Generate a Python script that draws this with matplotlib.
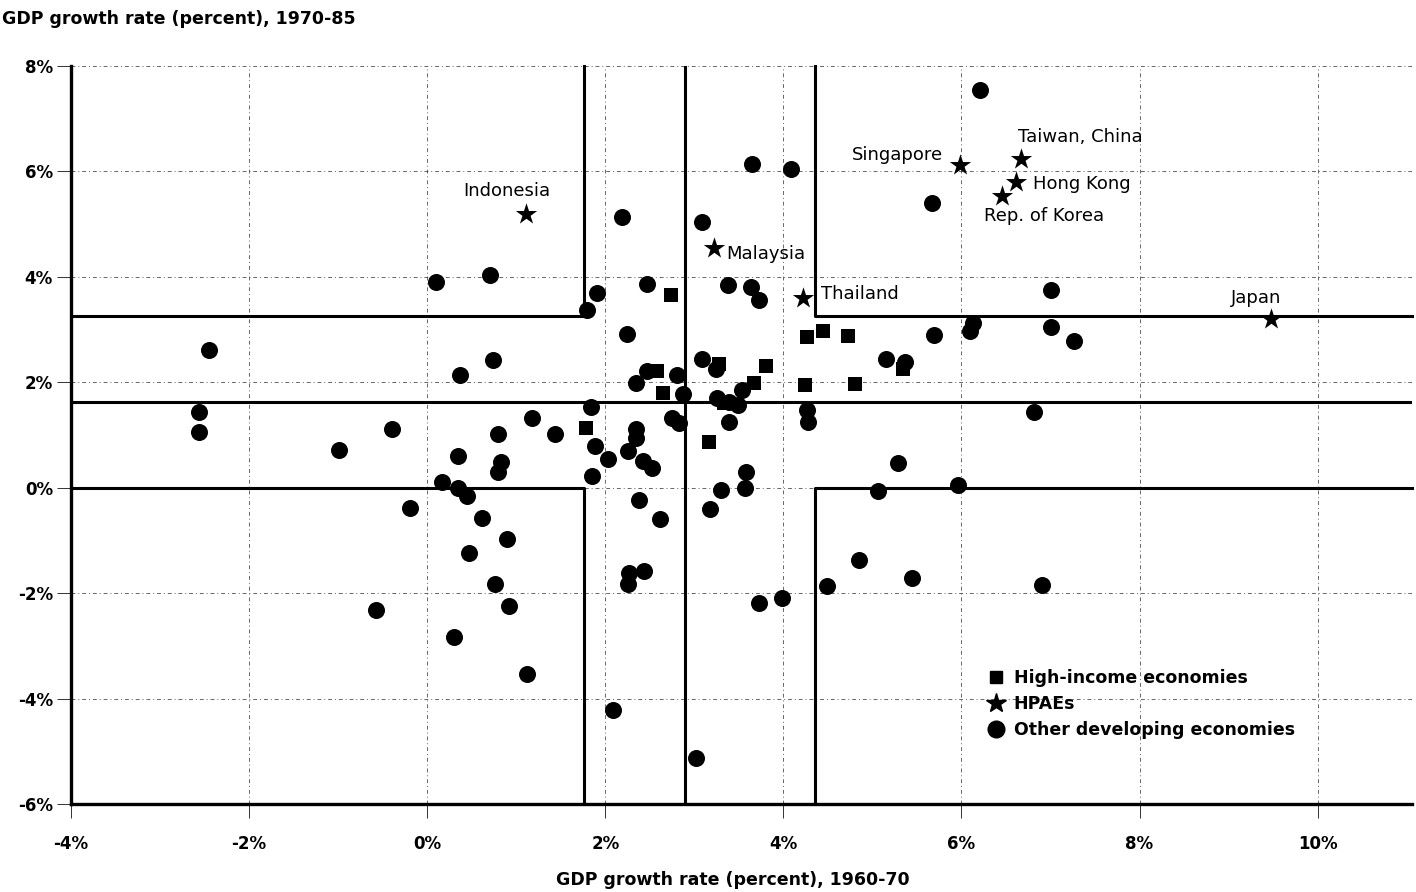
import matplotlib
matplotlib.use("Agg")
import matplotlib.pyplot as plt
from matplotlib.lines import Line2D

plt.rcParams['font.family'] = ['DejaVu Sans']

# ---- data: GDP growth 1960-70 (x, %) vs 1970-85 (y, %) ----
hpae_names = ["Indonesia", "Malaysia", "Thailand", "Singapore",
              "Taiwan, China", "Hong Kong", "Rep. of Korea", "Japan"]
hpae_x = [1.11, 3.22, 4.22, 5.98, 6.67, 6.61, 6.46, 9.48]
hpae_y = [5.19, 4.54, 3.59, 6.12, 6.24, 5.80, 5.53, 3.21]

high_x = [2.74, 2.58, 2.65, 3.28, 3.81, 3.67, 3.33, 1.78, 3.17, 4.26, 4.44, 4.73, 4.24, 4.81, 5.34]
high_y = [3.65, 2.21, 1.79, 2.34, 2.30, 1.98, 1.60, 1.14, 0.86, 2.85, 2.97, 2.87, 1.94, 1.96, 2.26]

other_x = [-2.45, -2.56, -2.56, -0.99, -0.39, -0.19, -0.58, 0.10, 0.70, 0.37,
           0.74, 0.17, 0.35, 0.35, 0.45, 0.79, 0.83, 0.79, 0.62, 0.90,
           0.47, 0.76, 0.92, 0.30, 1.12, 1.18, 1.44, 1.84, 1.91, 1.79,
           2.19, 2.47, 2.24, 2.47, 2.34, 2.81, 2.87, 1.89, 1.85, 2.03,
           2.25, 2.35, 2.35, 2.42, 2.53, 2.75, 2.83, 2.38, 2.62, 2.27,
           2.43, 2.26, 2.09, 3.02, 3.09, 3.65, 4.09, 3.38, 3.64, 3.73,
           3.09, 3.24, 3.54, 3.25, 3.39, 3.49, 3.39, 3.58, 3.57, 3.30,
           3.18, 3.73, 3.98, 4.26, 4.28, 4.49, 4.85, 5.45, 6.91, 5.06,
           5.29, 5.96, 5.15, 5.37, 5.69, 6.13, 6.10, 7.01, 7.26, 7.01,
           6.82, 5.67, 6.21]
other_y = [2.62, 1.43, 1.06, 0.72, 1.12, -0.38, -2.32, 3.90, 4.03, 2.13,
           2.43, 0.11, 0.61, 0.00, -0.15, 1.01, 0.49, 0.30, -0.57, -0.97,
           -1.24, -1.83, -2.24, -2.83, -3.54, 1.33, 1.01, 1.54, 3.69, 3.38,
           5.13, 3.86, 2.91, 2.22, 1.98, 2.13, 1.77, 0.80, 0.23, 0.55,
           0.70, 1.12, 0.95, 0.51, 0.38, 1.33, 1.22, -0.23, -0.59, -1.62,
           -1.58, -1.83, -4.22, -5.13, 5.04, 6.14, 6.05, 3.84, 3.80, 3.57,
           2.45, 2.26, 1.86, 1.71, 1.62, 1.56, 1.24, 0.29, 0.00, -0.04,
           -0.40, -2.19, -2.09, 1.48, 1.24, -1.86, -1.37, -1.71, -1.84, -0.06,
           0.46, 0.06, 2.45, 2.38, 2.89, 3.12, 2.98, 3.04, 2.78, 3.75,
           1.44, 5.40, 7.55]

# region boundaries (percent)
x_lo, x_mid, x_hi = 1.76, 2.90, 4.35
y_lo, y_mid, y_hi = 0.0, 1.62, 3.25

xticks = [-4, -2, 0, 2, 4, 6, 8, 10]
yticks = [-6, -4, -2, 0, 2, 4, 6, 8]
xlim = (-4, 11.06)
ylim = (-6, 8)

# label offsets in pixels (dx, dy, ha)
label_offsets = [(-19, 23, 'center'), (12, -6, 'left'), (18, 4, 'left'),
                 (-17, 10, 'right'), (-3, 22, 'left'), (17, -2, 'left'),
                 (-18, -20, 'left'), (-15, 21, 'center')]

fig = plt.figure(figsize=(14.16, 8.92), dpi=100)
ax = fig.add_axes([71/1416, 1 - 804/892, (1412 - 71)/1416, (804 - 66)/892])
ax.set_xlim(*xlim)
ax.set_ylim(*ylim)

# grid
ax.set_xticks(xticks)
ax.set_yticks(yticks)
ax.set_xticklabels([f"{t}%" for t in xticks], fontsize=12, fontweight='bold')
ax.set_yticklabels([f"{t}%" for t in yticks], fontsize=12, fontweight='bold')
ax.grid(True, color='#333333', lw=0.7, linestyle=(0, (4, 3, 1, 3)), alpha=0.75)
ax.set_axisbelow(True)
ax.tick_params(axis='y', length=10, width=0.7, color='#333333', pad=3)
ax.tick_params(axis='x', length=10, width=0.7, color='#333333', pad=12)
for s in ['top', 'right']:
    ax.spines[s].set_visible(False)
for s in ['left', 'bottom']:
    ax.spines[s].set_linewidth(2.4)

lw = 2.2
xmin, xmax = xlim
ymin, ymax = ylim
# full-width / full-height lines
ax.axhline(y_mid, color='black', lw=lw, zorder=2)
ax.axvline(x_mid, color='black', lw=lw, zorder=2)
# upper-left box
ax.plot([xmin, x_lo, x_lo], [y_hi, y_hi, ymax], color='black', lw=lw, zorder=2, clip_on=False)
# upper-right box
ax.plot([x_hi, x_hi, xmax], [ymax, y_hi, y_hi], color='black', lw=lw, zorder=2, clip_on=False)
# lower-left box
ax.plot([xmin, x_lo, x_lo], [y_lo, y_lo, ymin], color='black', lw=lw, zorder=2, clip_on=False)
# lower-right box
ax.plot([x_hi, x_hi, xmax], [ymin, y_lo, y_lo], color='black', lw=lw, zorder=2, clip_on=False)

ax.scatter(other_x, other_y, s=150, marker='o', color='black', zorder=3, linewidths=0)
ax.scatter(high_x, high_y, s=110, marker='s', color='black', zorder=4, linewidths=0)
ax.scatter(hpae_x, hpae_y, s=260, marker='*', color='black', zorder=5, linewidths=0)

for name, x, y, (dx, dy, ha) in zip(hpae_names, hpae_x, hpae_y, label_offsets):
    ax.annotate(name, (x, y), xytext=(dx, dy), textcoords='offset pixels',
                ha=ha, va='center', fontsize=13, zorder=6)

handles = [Line2D([], [], marker='s', color='black', ls='none', markersize=9),
           Line2D([], [], marker='*', color='black', ls='none', markersize=15),
           Line2D([], [], marker='o', color='black', ls='none', markersize=12)]
leg = ax.legend(handles, ["High-income economies", "HPAEs", "Other developing economies"],
                loc='upper left', bbox_to_anchor=(0.677, 0.192), frameon=False,
                prop={'weight': 'bold', 'size': 12.5}, handletextpad=0.4,
                labelspacing=0.45, handlelength=1.2, borderaxespad=0)

fig.text(2/1416, 1 - 19/892, "GDP growth rate (percent), 1970-85", fontsize=12.5,
         fontweight='bold', ha='left', va='center')
fig.text(733/1416, 1 - 880/892, "GDP growth rate (percent), 1960-70", fontsize=12.5,
         fontweight='bold', ha='center', va='center')

fig.savefig("out.png", dpi=100)
